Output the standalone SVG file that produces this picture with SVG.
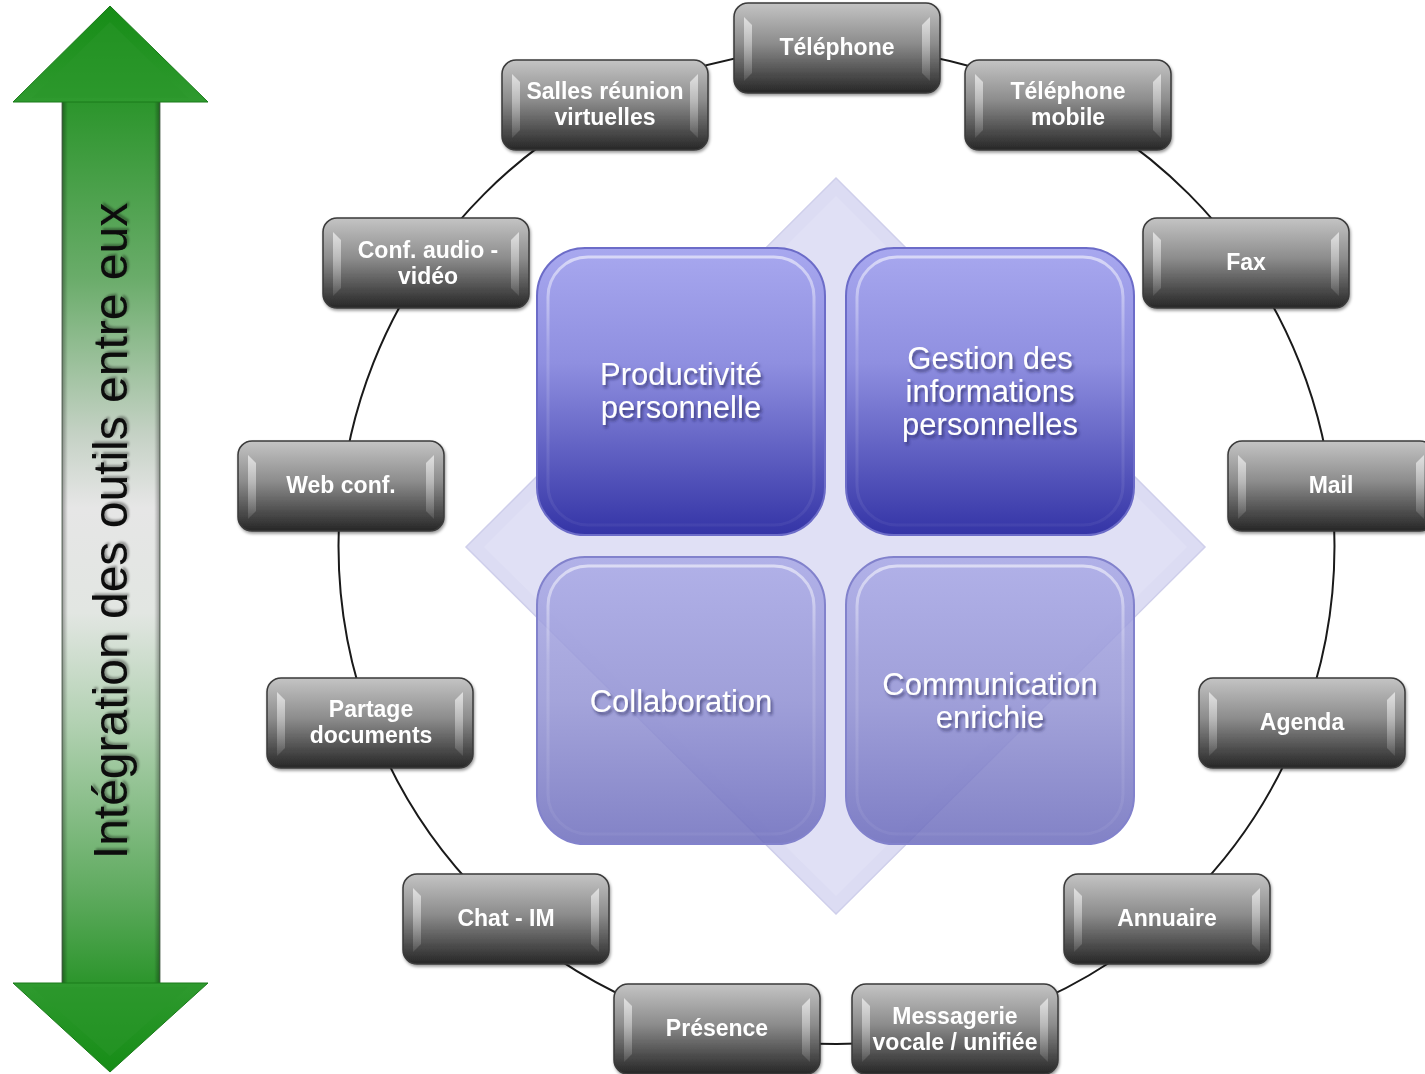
<svg xmlns="http://www.w3.org/2000/svg" width="1425" height="1074" viewBox="0 0 1425 1074">
<defs>
  <linearGradient id="gray" x1="0" y1="0" x2="0" y2="1">
    <stop offset="0" stop-color="#c4c4c4"/>
    <stop offset="0.45" stop-color="#8c8c8c"/>
    <stop offset="1" stop-color="#262626"/>
  </linearGradient>
  <linearGradient id="hl" x1="0" y1="0" x2="0" y2="1">
    <stop offset="0" stop-color="#ffffff" stop-opacity="0.6"/>
    <stop offset="0.5" stop-color="#ffffff" stop-opacity="0.35"/>
    <stop offset="1" stop-color="#ffffff" stop-opacity="0.1"/>
  </linearGradient>
  <linearGradient id="blueTop" x1="0" y1="0" x2="0" y2="1">
    <stop offset="0" stop-color="#a8a8ef"/>
    <stop offset="0.4" stop-color="#8f8fe0"/>
    <stop offset="1" stop-color="#3434a6"/>
  </linearGradient>
  <linearGradient id="blueBot" x1="0" y1="0" x2="0" y2="1">
    <stop offset="0" stop-color="#a9a9e6"/>
    <stop offset="0.5" stop-color="#9494d4"/>
    <stop offset="1" stop-color="#6c6cbc"/>
  </linearGradient>
  <linearGradient id="rim" x1="0" y1="0" x2="0" y2="1">
    <stop offset="0" stop-color="#ffffff" stop-opacity="0.55"/>
    <stop offset="0.35" stop-color="#ffffff" stop-opacity="0.15"/>
    <stop offset="1" stop-color="#ffffff" stop-opacity="0.05"/>
  </linearGradient>
  <linearGradient id="shaft" x1="0" y1="102" x2="0" y2="983" gradientUnits="userSpaceOnUse">
    <stop offset="0" stop-color="#2c952c"/>
    <stop offset="0.2" stop-color="#6aac6a"/>
    <stop offset="0.38" stop-color="#c6d2c6"/>
    <stop offset="0.46" stop-color="#e6e6e6"/>
    <stop offset="0.58" stop-color="#e2e6e2"/>
    <stop offset="0.7" stop-color="#b4d2b4"/>
    <stop offset="0.9" stop-color="#5eaa5e"/>
    <stop offset="1" stop-color="#2c952c"/>
  </linearGradient>
  <linearGradient id="shaftEdge" x1="0" y1="0" x2="1" y2="0">
    <stop offset="0" stop-color="#000" stop-opacity="0.35"/>
    <stop offset="0.06" stop-color="#000" stop-opacity="0"/>
    <stop offset="0.94" stop-color="#000" stop-opacity="0"/>
    <stop offset="1" stop-color="#000" stop-opacity="0.35"/>
  </linearGradient>
  <linearGradient id="headUp" x1="0" y1="0" x2="0" y2="1">
    <stop offset="0" stop-color="#168c16"/>
    <stop offset="1" stop-color="#2f9a2f"/>
  </linearGradient>
  <linearGradient id="headDown" x1="0" y1="1" x2="0" y2="0">
    <stop offset="0" stop-color="#168c16"/>
    <stop offset="1" stop-color="#2f9a2f"/>
  </linearGradient>
  <filter id="tshadow" x="-10%" y="-30%" width="120%" height="160%">
    <feDropShadow dx="2" dy="3" stdDeviation="1.5" flood-color="#1a1a50" flood-opacity="0.6"/>
  </filter>
  <filter id="lshadow" x="-10%" y="-10%" width="120%" height="120%">
    <feDropShadow dx="2" dy="2" stdDeviation="1" flood-color="#000" flood-opacity="0.35"/>
  </filter>
  <filter id="nshadow" x="-5%" y="-5%" width="115%" height="120%">
    <feDropShadow dx="1" dy="2" stdDeviation="1.5" flood-color="#000" flood-opacity="0.4"/>
  </filter>
  <g id="gnode">
    <rect x="0" y="0" width="206" height="90" rx="14" fill="url(#gray)" stroke="#3a3a3a" stroke-width="1.5"/>
    <polygon points="10,14 18,22 18,70 10,78" fill="url(#hl)"/>
    <polygon points="196,14 188,22 188,70 196,78" fill="url(#hl)"/>
  </g>
</defs>
<style>
  .gt { font-family: "Liberation Sans", Arial, sans-serif; font-weight: bold; font-size: 23px; fill: #ffffff; text-anchor: middle; }
  .bt { font-family: "Liberation Sans", Arial, sans-serif; font-size: 31px; fill: #ffffff; text-anchor: middle; }
  .lt { font-family: "Liberation Sans", Arial, sans-serif; font-size: 48px; fill: #0a0a0a; text-anchor: middle; }
</style>
<rect width="1425" height="1074" fill="#ffffff"/>

<!-- integration arrow -->
<g id="arrow">
  <rect x="62" y="100" width="98" height="885" fill="url(#shaft)" stroke="#6a7a6a" stroke-width="1"/>
  <rect x="62" y="100" width="98" height="885" fill="url(#shaftEdge)"/>
  <polygon points="110,6 208,102 160,102 62,102 13,102" fill="url(#headUp)" stroke="#1a7a1a" stroke-width="1"/>
  <polygon points="110,22 188,98 32,98" fill="#2a962a" opacity="0.5"/>
  <polygon points="110,1072 208,983 160,983 62,983 13,983" fill="url(#headDown)" stroke="#1a7a1a" stroke-width="1"/>
  <polygon points="110,1056 188,987 32,987" fill="#2a962a" opacity="0.5"/>
  <text class="lt" transform="translate(127,531) rotate(-90)" filter="url(#lshadow)">Intégration des outils entre eux</text>
</g>

<!-- connectors (ring) -->
<g id="connectors">
  <circle cx="836.5" cy="546" r="498" fill="none" stroke="#1a1a1a" stroke-width="2"/>
</g>

<!-- center diamond -->
<g id="diamond">
  <polygon points="836,178 1205,547 836,914 466,547" fill="#dcdcf3" stroke="#cfcfeb" stroke-width="1.5"/>
  <polygon points="836,196 1187,547 836,896 484,547" fill="#e0e0f5"/>
</g>

<!-- center squares -->
<g id="sq-productivite">
  <rect x="537" y="248" width="288" height="287" rx="48" fill="url(#blueTop)" stroke="#6c6cc8" stroke-width="2"/>
  <rect x="548" y="257" width="266" height="268" rx="40" fill="none" stroke="url(#rim)" stroke-width="3"/>
  <text class="bt" filter="url(#tshadow)"><tspan x="681" y="385">Productivité</tspan><tspan x="681" y="418">personnelle</tspan></text>
</g>
<g id="sq-gestion">
  <rect x="846" y="248" width="288" height="287" rx="48" fill="url(#blueTop)" stroke="#6c6cc8" stroke-width="2"/>
  <rect x="857" y="257" width="266" height="268" rx="40" fill="none" stroke="url(#rim)" stroke-width="3"/>
  <text class="bt" filter="url(#tshadow)"><tspan x="990" y="369">Gestion des</tspan><tspan x="990" y="402">informations</tspan><tspan x="990" y="435">personnelles</tspan></text>
</g>
<g id="sq-collaboration">
  <rect x="537" y="557" width="288" height="287" rx="48" fill="url(#blueBot)" fill-opacity="0.85" stroke="#8282cc" stroke-width="2"/>
  <rect x="548" y="566" width="266" height="268" rx="40" fill="none" stroke="url(#rim)" stroke-width="3"/>
  <text class="bt" filter="url(#tshadow)"><tspan x="681" y="712">Collaboration</tspan></text>
</g>
<g id="sq-communication">
  <rect x="846" y="557" width="288" height="287" rx="48" fill="url(#blueBot)" fill-opacity="0.85" stroke="#8282cc" stroke-width="2"/>
  <rect x="857" y="566" width="266" height="268" rx="40" fill="none" stroke="url(#rim)" stroke-width="3"/>
  <text class="bt" filter="url(#tshadow)"><tspan x="990" y="695">Communication</tspan><tspan x="990" y="728">enrichie</tspan></text>
</g>

<!-- ring nodes -->
<g id="n-telephone" filter="url(#nshadow)">
  <use href="#gnode" x="734" y="3"/>
  <text class="gt" x="837" y="55">Téléphone</text>
</g>
<g id="n-salles" filter="url(#nshadow)">
  <use href="#gnode" x="502" y="60"/>
  <text class="gt"><tspan x="605" y="99">Salles réunion</tspan><tspan x="605" y="125">virtuelles</tspan></text>
</g>
<g id="n-mobile" filter="url(#nshadow)">
  <use href="#gnode" x="965" y="60"/>
  <text class="gt"><tspan x="1068" y="99">Téléphone</tspan><tspan x="1068" y="125">mobile</tspan></text>
</g>
<g id="n-conf" filter="url(#nshadow)">
  <use href="#gnode" x="323" y="218"/>
  <text class="gt"><tspan x="428" y="258">Conf. audio -</tspan><tspan x="428" y="284">vidéo</tspan></text>
</g>
<g id="n-fax" filter="url(#nshadow)">
  <use href="#gnode" x="1143" y="218"/>
  <text class="gt" x="1246" y="270">Fax</text>
</g>
<g id="n-webconf" filter="url(#nshadow)">
  <use href="#gnode" x="238" y="441"/>
  <text class="gt" x="341" y="493">Web conf.</text>
</g>
<g id="n-mail" filter="url(#nshadow)">
  <use href="#gnode" x="1228" y="441"/>
  <text class="gt" x="1331" y="493">Mail</text>
</g>
<g id="n-partage" filter="url(#nshadow)">
  <use href="#gnode" x="267" y="678"/>
  <text class="gt"><tspan x="371" y="717">Partage</tspan><tspan x="371" y="743">documents</tspan></text>
</g>
<g id="n-agenda" filter="url(#nshadow)">
  <use href="#gnode" x="1199" y="678"/>
  <text class="gt" x="1302" y="730">Agenda</text>
</g>
<g id="n-chat" filter="url(#nshadow)">
  <use href="#gnode" x="403" y="874"/>
  <text class="gt" x="506" y="926">Chat - IM</text>
</g>
<g id="n-annuaire" filter="url(#nshadow)">
  <use href="#gnode" x="1064" y="874"/>
  <text class="gt" x="1167" y="926">Annuaire</text>
</g>
<g id="n-presence" filter="url(#nshadow)">
  <use href="#gnode" x="614" y="984"/>
  <text class="gt" x="717" y="1036">Présence</text>
</g>
<g id="n-messagerie" filter="url(#nshadow)">
  <use href="#gnode" x="852" y="984"/>
  <text class="gt"><tspan x="955" y="1024">Messagerie</tspan><tspan x="955" y="1050">vocale / unifiée</tspan></text>
</g>
</svg>
